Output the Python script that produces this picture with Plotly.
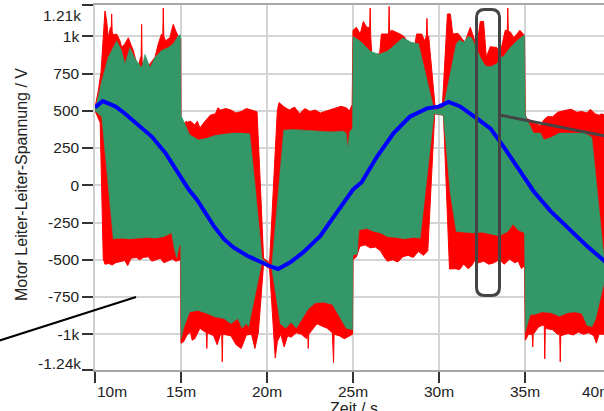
import plotly.graph_objects as go

# ---------------- data: (time in ms, voltage in V) ----------------
# red envelope, upper edge
red_upper = [
    (10.0, 520), (10.2, 640), (10.35, 760), (10.48, 1010), (10.58, 1170), (10.68, 1100), (10.77, 990),
    (10.9, 1060), (10.94, 1040), (10.97, 1150), (11.0, 1030), (11.06, 1010), (11.26, 1015), (11.45, 970),
    (11.55, 925), (11.74, 950), (11.94, 990), (12.1, 940), (12.23, 905), (12.42, 815), (12.52, 795),
    (12.65, 860), (12.68, 850), (12.71, 1080), (12.74, 830), (13.0, 795), (13.2, 815), (13.49, 860),
    (13.68, 950), (13.87, 1015), (13.94, 1000), (13.97, 1190), (14.0, 1000), (14.1, 970), (14.35, 990),
    (14.5, 1060), (14.55, 1080), (14.68, 1040), (14.84, 1000), (14.98, 980),
    (15.0, 440), (15.15, 405), (15.3, 430), (15.36, 425), (15.38, 310), (15.4, 425), (15.55, 430),
    (15.8, 405), (15.95, 430), (16.1, 385), (16.4, 430), (16.7, 470), (17.0, 480), (17.15, 520),
    (17.3, 505), (17.6, 515), (17.9, 505), (18.2, 485), (18.5, 495), (18.8, 515), (19.1, 505),
    (19.3, 495), (19.42, 493), (19.6, 40), (19.8, -490),
    (20.15, -520), (20.4, 0), (20.6, 500), (20.7, 555),
    (21.0, 525), (21.3, 505), (21.6, 525), (21.9, 480), (22.2, 515), (22.5, 495), (22.8, 505),
    (23.1, 485), (23.4, 495), (23.7, 505), (24.0, 515), (24.3, 530), (24.6, 520), (24.8, 500), (24.95, 540),
    (25.0, 1040), (25.2, 1060), (25.42, 1015), (25.6, 1100), (25.8, 1060), (25.97, 1060), (26.0, 1190),
    (26.03, 1000), (26.1, 860), (26.3, 875), (26.55, 885), (26.65, 1015), (27.0, 1015), (27.07, 1015),
    (27.1, 1200), (27.13, 1030), (27.25, 1040), (27.74, 1015), (28.0, 995), (28.33, 925), (28.5, 880),
    (28.7, 1015), (29.0, 1015), (29.15, 970), (29.27, 1000), (29.3, 1120), (29.33, 1000), (29.4, 1000),
    (29.78, 520),
    (30.0, 530), (30.2, 540), (30.49, 1150), (30.66, 1150),
    (30.8, 1015), (31.1, 1020), (31.3, 990), (31.5, 960), (31.82, 1060), (32.0, 1000), (32.2, 930),
    (32.4, 1100), (32.59, 1100), (32.75, 860), (32.98, 930), (33.36, 925), (33.55, 880), (33.85, 1040),
    (33.97, 1040), (34.0, 1190), (34.03, 1030), (34.14, 1030), (34.35, 990), (34.53, 1015), (34.7, 1040),
    (34.9, 1015), (34.97, 1000),
    (35.02, 470), (35.12, 445), (35.28, 440), (35.3, 305), (35.32, 420), (35.4, 420), (35.6, 415),
    (35.89, 400), (36.1, 440), (36.3, 460), (36.6, 460), (36.9, 490), (37.2, 500), (37.44, 505),
    (37.7, 510), (38.0, 490), (38.3, 495), (38.6, 485), (38.8, 510), (39.08, 480), (39.3, 470),
    (39.47, 480), (39.62, 470), (39.8, 0), (40.0, -500),
]

# red envelope, lower edge
red_lower = [
    (10.0, 500), (10.3, 420), (10.48, -495), (10.58, -530), (10.8, -525), (11.0, -535), (11.2, -520),
    (11.5, -510), (11.74, -505), (11.9, -540), (12.1, -490), (12.4, -485), (12.6, -500), (12.8, -485),
    (13.1, -480), (13.3, -510), (13.5, -505), (13.8, -490), (14.0, -520), (14.3, -505), (14.5, -495),
    (14.7, -510), (14.98, -500),
    (15.0, -1060), (15.15, -1050), (15.35, -1005), (15.55, -985), (15.65, -1040), (15.8, -1030),
    (16.1, -960), (16.4, -985), (16.47, -985), (16.5, -1095), (16.53, -990), (16.9, -1010), (17.1, -1070),
    (17.3, -1000), (17.37, -1000), (17.4, -1185), (17.43, -1000), (17.9, -1010), (18.2, -1070),
    (18.5, -1095), (18.8, -1005), (19.1, -1000), (19.3, -1095), (19.5, -985), (19.8, -530),
    (20.15, -560), (20.48, -1160),
    (20.6, -1050), (20.8, -1000), (21.0, -1085), (21.2, -1010), (21.4, -1020), (21.7, -990), (22.0, -1000),
    (22.3, -1030), (22.37, -1000), (22.4, -1095), (22.43, -1000), (22.7, -960), (22.9, -930), (23.2, -945),
    (23.5, -960), (23.8, -990), (23.84, -990), (23.87, -1190), (23.9, -1000), (24.2, -1010), (24.5, -1030),
    (24.8, -1010), (24.97, -1000),
    (25.0, -500), (25.2, -480), (25.4, -410), (25.7, -400), (26.0, -420), (26.3, -415), (26.6, -440),
    (26.8, -480), (27.0, -510), (27.3, -500), (27.6, -515), (27.9, -480), (28.2, -470), (28.5, -485),
    (28.8, -445), (29.1, -470), (29.35, -440), (29.75, 480),
    (30.26, 470), (30.61, -562),
    (30.9, -560), (31.2, -565), (31.43, -530), (31.7, -560), (31.9, -540), (32.1, -500), (32.3, -520),
    (32.6, -510), (32.9, -530), (33.2, -520), (33.5, -500), (33.8, -530), (34.1, -495), (34.4, -520),
    (34.6, -510), (34.8, -560), (34.97, -540),
    (35.02, -1040), (35.2, -1000), (35.42, -1000), (35.45, -1085), (35.48, -1000), (35.8, -950),
    (36.0, -940), (36.12, -940), (36.15, -1165), (36.18, -960), (36.6, -970), (36.9, -1000),
    (37.02, -1000), (37.05, -1185), (37.08, -1010), (37.5, -995), (37.8, -1005), (38.1, -985),
    (38.4, -1000), (38.7, -990), (39.0, -1010), (39.15, -1060), (39.3, -1000), (39.6, -1000), (40.0, -980),
]

# green envelope, upper edge
green_upper = [
    (10.0, 505), (10.39, 700), (10.77, 860), (11.26, 970), (11.55, 905), (11.74, 815), (12.03, 925),
    (12.33, 850), (12.71, 790), (12.91, 880), (13.2, 790), (13.49, 860), (13.87, 905), (14.26, 925),
    (14.55, 950), (14.84, 1005), (14.98, 1010),
    (15.0, 470), (15.2, 420), (15.5, 340), (16.0, 305), (16.5, 315), (17.0, 335), (17.5, 345),
    (18.0, 350), (18.5, 350), (19.0, 345), (19.3, 10), (19.72, -495),
    (20.28, -540), (20.97, 370),
    (21.5, 375), (22.0, 370), (22.5, 365), (23.0, 365), (23.5, 360), (24.0, 360), (24.4, 365),
    (24.6, 350), (24.7, 250), (24.8, 360), (24.97, 380),
    (25.0, 1000), (25.5, 960), (26.0, 900), (26.5, 880), (27.0, 900), (27.5, 950), (27.9, 990),
    (28.4, 960), (28.81, 950), (29.72, 505),
    (30.25, 520), (31.0, 950),
    (31.2, 975), (31.43, 960), (31.7, 1000), (31.9, 990), (32.2, 905), (32.4, 860), (32.7, 800),
    (32.98, 795), (33.36, 815), (33.6, 860), (33.75, 865), (34.14, 925), (34.53, 970), (34.82, 995),
    (34.97, 1010),
    (35.02, 470), (35.2, 420), (35.5, 350), (35.9, 350), (36.1, 305), (36.5, 320), (37.0, 350),
    (37.5, 350), (38.0, 350), (38.4, 350), (38.7, 335), (38.89, 320), (39.61, -500), (40.0, -540),
]

# green envelope, lower edge
green_lower = [
    (10.0, 500), (10.39, 460), (11.06, -360), (11.5, -355), (12.0, -360), (12.5, -355), (13.0, -350),
    (13.5, -355), (14.0, -345), (14.45, -320), (14.6, -420), (14.75, -490), (14.9, -410), (14.98, -400),
    (15.0, -1030), (15.15, -960), (15.5, -850), (16.0, -840), (16.5, -860), (17.0, -885), (17.5, -895),
    (17.9, -930), (18.3, -895), (18.55, -960), (18.8, -930), (18.93, -950), (19.71, -517),
    (20.28, -560), (20.77, -930),
    (21.1, -960), (21.4, -920), (21.7, -960), (22.0, -910), (22.4, -830), (22.8, -790), (23.3, -785),
    (23.8, -800), (24.2, -880), (24.6, -960), (24.97, -970),
    (25.0, -470), (25.25, -460), (25.35, -300), (25.8, -290), (26.2, -310), (26.6, -320), (27.0, -345),
    (27.5, -350), (28.0, -360), (28.5, -350), (28.91, -355), (29.72, 482),
    (30.25, 470), (30.65, -50), (31.0, -310),
    (31.5, -315), (32.0, -320), (32.5, -315), (33.0, -330), (33.5, -340), (34.0, -310), (34.3, -262),
    (34.6, -300), (34.97, -320),
    (35.02, -985), (35.3, -870), (35.6, -865), (36.0, -850), (36.5, -855), (37.0, -880), (37.5, -855),
    (37.9, -850), (38.3, -860), (38.6, -940), (38.89, -950), (39.1, -900), (39.61, -650), (40.0, -550),
]

# filtered fundamental (blue)
blue_t = [10.0, 10.2, 10.45, 10.8, 11.2, 11.7, 12.5, 13.3, 14.1, 14.9, 15.45, 15.95, 16.9, 17.5, 18.05, 18.85,
          19.6, 20.2, 20.65, 21.35, 22.1, 23.1, 24.05, 25.0, 25.5, 26.4, 27.35, 28.3, 29.3, 29.95, 30.55, 31.2,
          32.2, 33.0, 33.75, 34.55, 35.5, 36.5, 37.6, 38.6, 39.6, 40.0]
blue_v = [523, 540, 565, 548, 528, 485, 405, 327, 216, 65, -29, -100, -273, -362, -417, -473,
          -517, -545, -562, -517, -451, -340, -184, -29, 20, 193, 349, 460, 516, 527, 560, 531,
          449, 380, 260, 125, -40, -175, -296, -407, -507, -540]

# axis ticks
x_tick_vals = [10, 15, 20, 25, 30, 35]
x_tick_text = ["", "15m", "20m", "25m", "30m", "35m"]
y_tick_vals = [-1240, -1000, -750, -500, -250, 0, 250, 500, 750, 1000, 1210]
y_tick_text = ["", "-1k", "-750", "-500", "-250", "0", "250", "500", "750", "1k", ""]

# ---------------- figure ----------------
W, H = 604, 411
ML, MR, MT, MB = 95, 0, 5, 41
PW, PH = W - ML - MR, H - MT - MB
PX_PER_MS = 17.2
X_MIN = 10.0
X_MAX = X_MIN + PW / PX_PER_MS


def xp(px):
    return (px - ML) / PW


def yp(py):
    return (H - MB - py) / PH


def band(upper, lower):
    xs = [p[0] for p in upper] + [p[0] for p in reversed(lower)]
    ys = [p[1] for p in upper] + [p[1] for p in reversed(lower)]
    return xs, ys


FONT = "Liberation Sans, Arial, sans-serif"
TXT = "#222222"

fig = go.Figure()
rx, ry = band(red_upper, red_lower)
fig.add_trace(go.Scatter(x=rx, y=ry, fill="toself", fillcolor="#ff0000", mode="lines",
                         line=dict(color="#ff0000", width=1), hoverinfo="skip", showlegend=False))
gx, gy = band(green_upper, green_lower)
fig.add_trace(go.Scatter(x=gx, y=gy, fill="toself", fillcolor="#349768", mode="lines",
                         line=dict(color="#349768", width=0.5), hoverinfo="skip", showlegend=False))
fig.add_trace(go.Scatter(x=blue_t, y=blue_v, mode="lines",
                         line=dict(color="#0000ff", width=4), hoverinfo="skip", showlegend=False))

# rounded rectangle (highlight)
x0, x1, y0, y1, r = 476.5, 499.5, 9.5, 295.5, 8


def P(px, py):
    return f"{xp(px):.5f},{yp(py):.5f}"


path = (f"M {P(x0 + r, y0)} L {P(x1 - r, y0)} Q {P(x1, y0)} {P(x1, y0 + r)} "
        f"L {P(x1, y1 - r)} Q {P(x1, y1)} {P(x1 - r, y1)} "
        f"L {P(x0 + r, y1)} Q {P(x0, y1)} {P(x0, y1 - r)} "
        f"L {P(x0, y0 + r)} Q {P(x0, y0)} {P(x0 + r, y0)} Z")
shapes = [
    dict(type="path", xref="paper", yref="paper", path=path,
         line=dict(color="#444444", width=3), layer="above"),
    dict(type="line", xref="paper", yref="paper", x0=xp(499.5), y0=yp(115), x1=xp(620), y1=yp(139),
         line=dict(color="#444444", width=3), layer="above"),
    dict(type="line", xref="paper", yref="paper", x0=xp(-2), y0=yp(341), x1=xp(136), y1=yp(297),
         line=dict(color="#000000", width=2), layer="above"),
]

annotations = [
    dict(text="10m", xref="paper", yref="paper", x=xp(95), y=yp(391), xanchor="left", yanchor="middle",
         showarrow=False, font=dict(family=FONT, size=15.5, color=TXT)),
    dict(text="40m", xref="paper", yref="paper", x=xp(580), y=yp(391), xanchor="left", yanchor="middle",
         showarrow=False, font=dict(family=FONT, size=15.5, color=TXT)),
    dict(text="1.21k", xref="paper", yref="paper", x=xp(83), y=yp(15), xanchor="right", yanchor="middle",
         showarrow=False, font=dict(family=FONT, size=15.5, color=TXT)),
    dict(text="-1.24k", xref="paper", yref="paper", x=xp(83), y=yp(363), xanchor="right", yanchor="middle",
         showarrow=False, font=dict(family=FONT, size=15.5, color=TXT)),
    dict(text="Zeit / s", xref="paper", yref="paper", x=xp(354), y=yp(397.5), xanchor="center", yanchor="top",
         showarrow=False, font=dict(family=FONT, size=16, color=TXT)),
    dict(text="Motor Leiter-Leiter-Spannung / V", xref="paper", yref="paper", x=xp(21), y=yp(185),
         xanchor="center", yanchor="middle", textangle=-90,
         showarrow=False, font=dict(family=FONT, size=16, color=TXT)),
]

fig.update_layout(
    width=W, height=H,
    margin=dict(l=ML, r=MR, t=MT, b=MB, pad=0),
    paper_bgcolor="white", plot_bgcolor="white",
    font=dict(family=FONT, size=15.5, color=TXT),
    showlegend=False,
    shapes=shapes, annotations=annotations,
    xaxis=dict(range=[X_MIN, X_MAX], tickvals=x_tick_vals, ticktext=x_tick_text,
               ticks="outside", ticklen=11, tickwidth=1.5, tickcolor="#333333",
               ticklabelstandoff=-5,
               showgrid=True, gridcolor="#d4d4d4", gridwidth=1.5, zeroline=False,
               showline=True, linecolor="#a6a6a6", linewidth=2, mirror=True,
               automargin=False, tickfont=dict(family=FONT, size=15.5, color=TXT)),
    yaxis=dict(range=[-1240, 1210], tickvals=y_tick_vals, ticktext=y_tick_text,
               ticks="outside", ticklen=11, tickwidth=1.5, tickcolor="#333333",
               showgrid=True, gridcolor="#d4d4d4", gridwidth=1.5, zeroline=False,
               showline=True, linecolor="#cfcfcf", linewidth=1.5,
               automargin=False, tickfont=dict(family=FONT, size=15.5, color=TXT)),
)

fig.write_html("out.html", config={"displayModeBar": False},
               post_script="document.body.style.margin='0px';document.body.style.overflow='hidden';")
